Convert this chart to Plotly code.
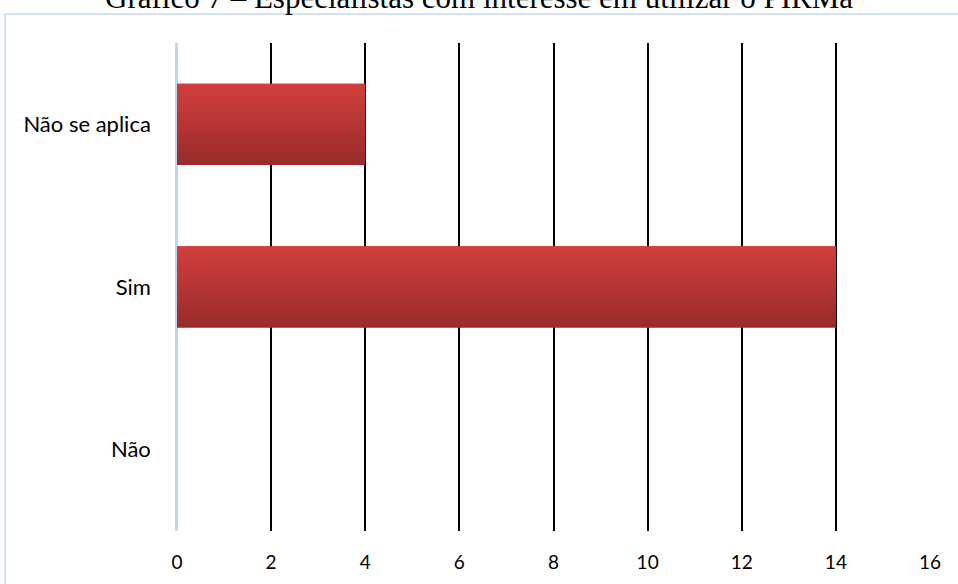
import plotly.graph_objects as go

categories = ["Não", "Sim", "Não se aplica"]
values = [0, 14, 4]
x_ticks = [0, 2, 4, 6, 8, 10, 12, 14, 16]
title_text = "Gráfico 7 – Especialistas com interesse em utilizar o PIRMa"

W, H = 958, 584
L, R, T, B = 177, 28, 43, 53
pw, ph = W - L - R, H - T - B

fig = go.Figure()

# vertical gradient imitation: thin overlaid strips of the same bars
n = 20
bar_w = 0.5
top_c = (208, 63, 60)
bot_c = (154, 43, 43)
sw = bar_w / n
for i in range(n):
    t = i / (n - 1)
    c = tuple(round(bot_c[k] + (top_c[k] - bot_c[k]) * t) for k in range(3))
    fig.add_trace(go.Bar(
        y=categories, x=values, orientation="h",
        width=min(2 * sw, bar_w - i * sw),
        offset=-bar_w / 2 + i * sw,
        marker=dict(color="rgb(%d,%d,%d)" % c, line=dict(width=0)),
        showlegend=False, hoverinfo="x+y",
    ))

# title, placed in pixels above the plot area (partly cut at the top, as in the source)
title_mid_px = -3
fig.add_annotation(text=title_text, xref="paper", yref="paper",
                   x=(W / 2 - L) / pw, y=(H - B - title_mid_px) / ph,
                   xanchor="center", yanchor="middle", showarrow=False,
                   font=dict(family="Liberation Serif", size=31, color="black"))

fig.update_layout(
    width=W, height=H,
    margin=dict(l=L, r=R, t=T, b=B),
    paper_bgcolor="white", plot_bgcolor="white",
    barmode="overlay",
    xaxis=dict(range=[0, 16], tickvals=x_ticks, ticktext=[str(v) for v in x_ticks],
               showgrid=True, gridcolor="black", gridwidth=2,
               zeroline=True, zerolinecolor="#c3d5ec", zerolinewidth=1.5,
               showline=False, ticks="", ticklabelstandoff=18,
               tickfont=dict(family="Lato", size=19, color="black")),
    yaxis=dict(categoryorder="array", categoryarray=categories,
               showgrid=False, showline=True, linecolor="#c3d5ec", linewidth=1.5,
               ticks="", ticklabelstandoff=20, zeroline=False,
               tickfont=dict(family="Lato", size=22, color="black")),
    shapes=[dict(type="rect", xref="paper", yref="paper",
                 x0=(5 - L) / pw, x1=(W + 5 - L) / pw,
                 y0=(H - B - (H + 10)) / ph, y1=(H - B - 14) / ph,
                 line=dict(color="#c6d8ef", width=1.5), fillcolor="rgba(0,0,0,0)",
                 layer="below")],
)

fig.write_html("out.html")
